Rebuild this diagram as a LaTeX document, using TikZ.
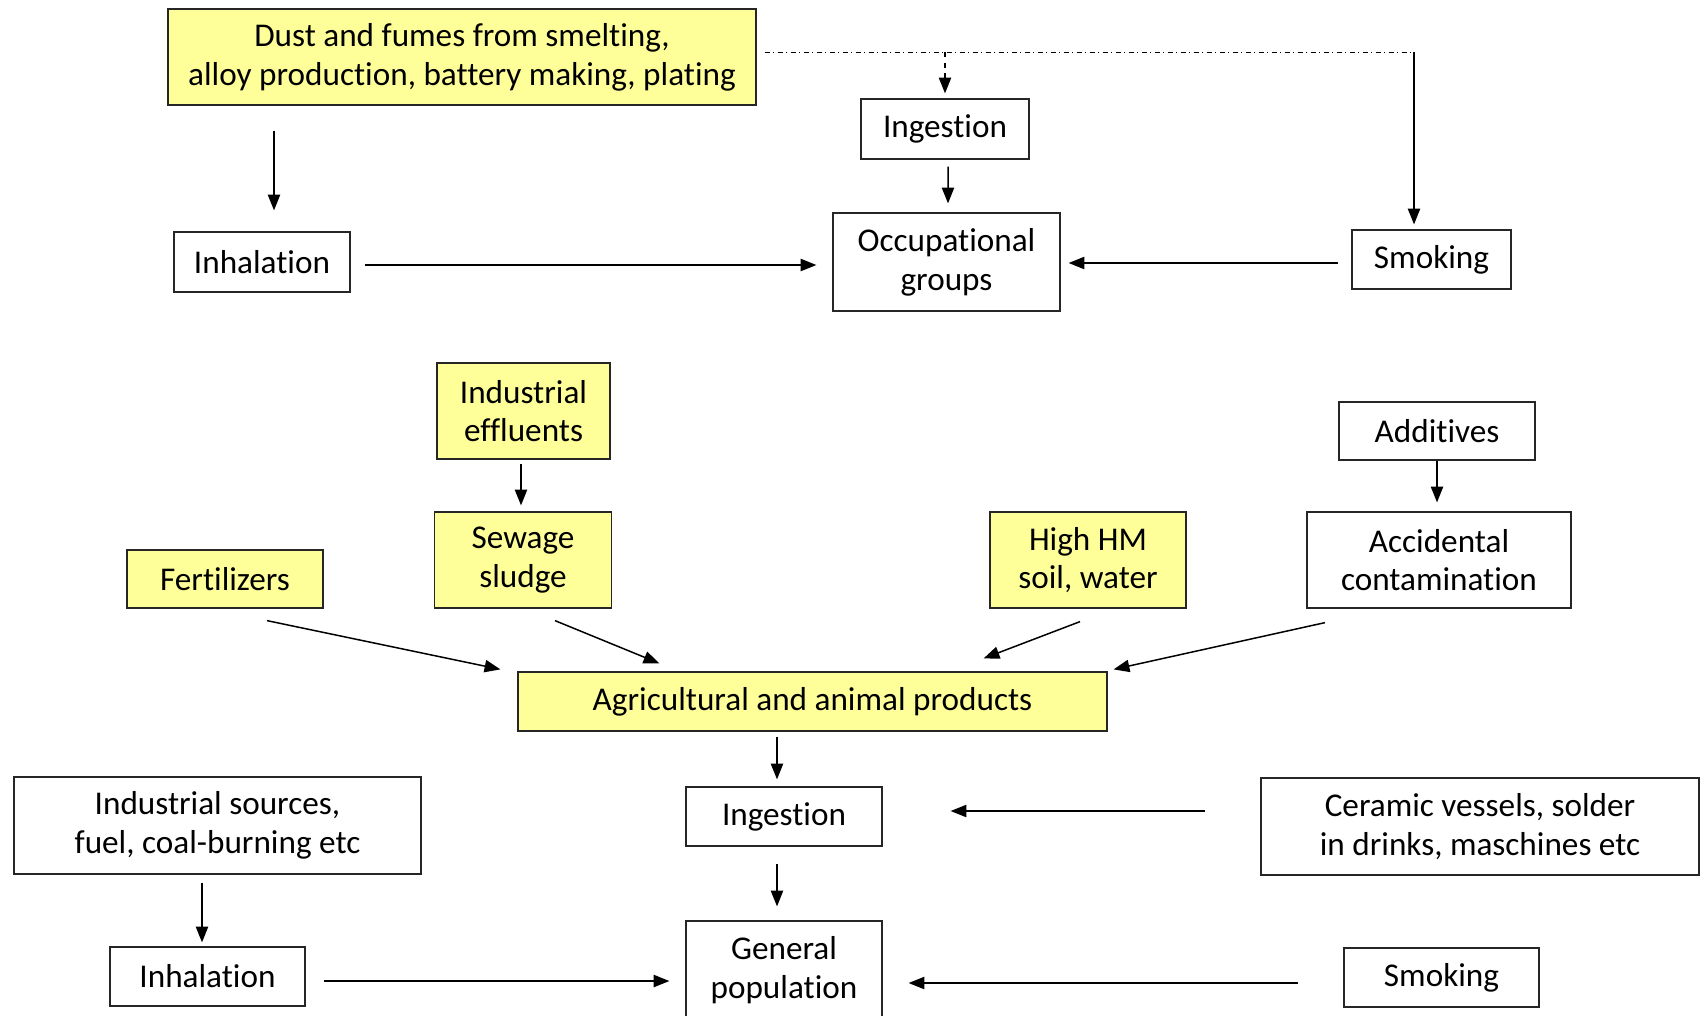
\documentclass[tikz,border=0pt]{standalone}
\usepackage{fontspec}
\setmainfont{Carlito}[Ligatures={NoCommon,NoRequired}]
\usetikzlibrary{arrows.meta,calc}
\definecolor{hmyellow}{HTML}{FFFF99}
\begin{document}
\begin{tikzpicture}[x=0.02cm,y=-0.02cm,
  box/.style={rectangle,draw=black!85,line width=0.7pt,align=center,inner sep=2pt,font=\fontsize{18.9}{22.1}\selectfont},
  ybox/.style={box,fill=hmyellow},
  wd/.style={minimum width=#1*0.02cm},
  ht/.style={minimum height=#1*0.02cm},
  arr/.style={-{Triangle[width=7pt,length=9pt]},line width=0.85pt}]
  \clip (0,0) rectangle (1703,1015);
  \node[ybox,wd=588,ht=96] (dust) at (462,57) {Dust and fumes from smelting,\\alloy production, battery making, plating};
  \node[box,wd=168,ht=60] (ingA) at (945,129) {Ingestion};
  \node[box,wd=227,ht=98] (occ) at (946.5,262) {Occupational\\groups};
  \node[box,wd=176,ht=60] (inhA) at (262,262) {Inhalation};
  \node[box,wd=159,ht=59] (smkA) at (1431.5,259.5) {Smoking};
  \node[ybox,wd=173,ht=96] (eff) at (523.5,411) {Industrial\\effluents};
  \node[ybox,wd=177,ht=96] (sew) at (523,560) {Sewage\\sludge};
  \node[ybox,wd=196,ht=58] (fert) at (225,579) {Fertilizers};
  \node[ybox,wd=196,ht=96] (hm) at (1088,560) {High HM\\soil, water};
  \node[box,wd=196,ht=58] (add) at (1437,431) {Additives};
  \node[box,wd=264,ht=96] (acc) at (1439,560) {Accidental\\contamination};
  \node[ybox,wd=589,ht=59] (agr) at (812.5,701.5) {Agricultural and animal products};
  \node[box,wd=196,ht=59] (ingB) at (784,816.5) {Ingestion};
  \node[box,wd=407,ht=97] (ind) at (217.5,825.5) {Industrial sources,\\fuel, coal-burning etc};
  \node[box,wd=438,ht=97] (cer) at (1480,826.5) {Ceramic vessels, solder\\in drinks, maschines etc};
  \node[box,wd=195,ht=59] (inhB) at (207.5,976.5) {Inhalation};
  \node[box,wd=196,ht=98] (gen) at (784,970) {General\\population};
  \node[box,wd=195,ht=59] (smkB) at (1441.5,977.5) {Smoking};
  \coordinate (split) at ($(ingA.north |- dust.east)+(0,-5)$);
  \coordinate (turn) at ($(smkA.north |- dust.east)+(-17.5,-5)$);
  \draw[thin,dash dot] ($(dust.east)+(8,-5)$) -- (turn);
  \draw[arr] (turn) -- ($(smkA.north)+(-17.5,-5)$);
  \draw[arr,dashed] (split) -- ($(ingA.north)+(0,-5)$);
  \draw[arr] ($(dust.south -| inhA.north)+(12,25)$) -- ($(inhA.north)+(12,-21)$);
  \draw[arr] ($(ingA.south)+(3,7)$) -- ($(occ.north)+(1.5,-9)$);
  \draw[arr] ($(inhA.east)+(14,3)$) -- ($(occ.west |- inhA.east)+(-16,3)$);
  \draw[arr] ($(smkA.west)+(-13,3.5)$) -- ($(occ.east |- smkA.west)+(8,3.5)$);
  \draw[arr] ($(eff.south)+(-2.5,4)$) -- ($(sew.north)+(-2,-6)$);
  \draw[arr] (add.south) -- ($(acc.north)+(-2,-9)$);
  \draw[arr] ($(fert.south)+(42,12)$) -- ($(agr.north west)+(-17,-2)$);
  \draw[arr] ($(sew.south)+(32,12)$) -- ($(agr.north west)+(142,-8)$);
  \draw[arr] ($(hm.south)+(-8,13)$) -- ($(agr.north east)+(-124,-13)$);
  \draw[arr] ($(acc.south)+(-114,14)$) -- ($(agr.north east)+(6,-2)$);
  \draw[arr] ($(agr.south -| ingB.south)+(-7,5)$) -- ($(ingB.north)+(-7,-7)$);
  \draw[arr] ($(cer.west |- ingB.east)+(-55,-5.5)$) -- ($(ingB.east)+(68,-5.5)$);
  \draw[arr] ($(ingB.south)+(-7,17)$) -- ($(gen.north)+(-7,-14)$);
  \draw[arr] ($(ind.south -| inhB.north)+(-5.5,8)$) -- ($(inhB.north)+(-5.5,-4)$);
  \draw[arr] ($(inhB.east)+(18,4.5)$) -- ($(gen.west |- inhB.east)+(-16,4.5)$);
  \draw[arr] ($(smkB.west)+(-45,5.5)$) -- ($(gen.east |- smkB.west)+(26,5.5)$);
\end{tikzpicture}
\end{document}
